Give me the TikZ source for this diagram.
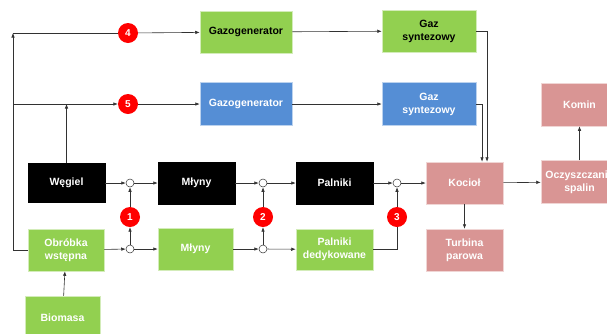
\documentclass[tikz,border=0pt]{standalone}
\usepackage{fontspec}
\setmainfont{Liberation Sans}
\usetikzlibrary{arrows.meta,calc}
\definecolor{cgreen}{RGB}{146,208,80}
\definecolor{cblue}{RGB}{85,142,213}
\definecolor{cpink}{RGB}{217,149,148}
\definecolor{cline}{RGB}{50,50,50}
\begin{document}
\begin{tikzpicture}[x=1pt,y=-1pt,
  box/.style={rectangle,minimum width=77pt,minimum height=42pt,inner sep=1pt,align=center,font=\bfseries\fontsize{10.5}{13}\selectfont,draw=white!60!#1,line width=0.5pt,fill=#1},
  gbox/.style={box=cgreen,text=black},
  wgbox/.style={box=cgreen,text=white},
  bbox/.style={box=cblue,text=white},
  kbox/.style={box=black,draw=black,text=white},
  pbox/.style={box=cpink,text=white},
  junc/.style={circle,draw=cline,fill=white,line width=0.5pt,minimum size=8pt,inner sep=0pt},
  num/.style={circle,fill=red,text=white,minimum size=20pt,inner sep=0pt,font=\bfseries\fontsize{10}{11}\selectfont},
  ln/.style={draw=cline,line width=0.6pt},
  arr/.style={ln,-{Latex[length=4.5pt,width=3.5pt]}}]
\useasboundingbox (0,0) rectangle (607,333);
\clip (0,0) rectangle (607,333);
% boxes
\node[gbox,minimum width=92pt] (gz1) at (246,32) {Gazogenerator};
\node[gbox,minimum width=94pt] (gs1) at (429,31) {Gaz\\syntezowy};
\node[bbox,minimum width=92pt,minimum height=43pt] (gz2) at (246,104) {Gazogenerator};
\node[bbox,minimum width=94pt,minimum height=43pt] (gs2) at (429,104) {Gaz\\syntezowy};
\node[pbox,minimum height=43pt] (komin) at (579.5,104.5) {Komin};
\node[kbox,minimum height=39pt] (wegiel) at (66.5,183) {Węgiel};
\node[kbox] (mlyny1) at (196.5,183) {Młyny};
\node[kbox] (palniki) at (334.5,183) {Palniki};
\node[pbox] (kociol) at (464.5,183) {Kocioł};
\node[pbox,minimum height=43pt] (oczy) at (579.5,182) {Oczyszczanie\\spalin};
\node[wgbox,minimum width=76pt] (obrobka) at (66,250) {Obróbka\\wstępna};
\node[wgbox,minimum width=75pt] (mlyny2) at (195.5,249) {Młyny};
\node[wgbox,minimum height=41pt] (pald) at (334.5,249.5) {Palniki\\dedykowane};
\node[pbox] (turbina) at (464.5,250) {Turbina\\parowa};
\node[wgbox,minimum width=75pt,minimum height=44pt] (biomasa) at (62.5,318) {Biomasa};
% junctions
\node[junc] (j1) at (130,183) {};
\node[junc] (j2) at (130,249) {};
\node[junc] (j3) at (263,183) {};
\node[junc] (j4) at (263,249) {};
\node[junc] (j5) at (397,183) {};
% numbers
\node[num] (r1) at (130,217) {1};
\node[num] (r2) at (263,217) {2};
\node[num] (r3) at (397,217) {3};
\node[num] (r4) at (128,33) {4};
\node[num] (r5) at (128,104) {5};
% helper coordinates
\coordinate (c4) at (13,33);
\coordinate (c5) at (13,104);
\coordinate (w5) at (66.5,104);
% connectors
\draw[arr] (obrobka.west) -| (c4);
\draw[ln] (c4) -- (r4);
\draw[arr] (r4) -- (gz1);
\draw[arr] (c5) -- (r5);
\draw[arr] (r5) -- (gz2);
\draw[arr] (wegiel.north) -- (w5);
\draw[arr] (gz1) -- (gs1);
\draw[arr] (gz2) -- (gs2);
\draw[arr] (gs1.east) -| ([xshift=22.5pt]kociol.north);
\draw[arr] (gs2.east) -| ([xshift=17.5pt]kociol.north);
\draw[arr] (biomasa) -- (obrobka);
\draw[arr] (wegiel) -- (j1);
\draw[arr] (j1) -- (mlyny1);
\draw[arr] (mlyny1) -- (j3);
\draw[arr] (j3) -- (palniki);
\draw[arr] (palniki) -- (j5);
\draw[arr] (j5) -- (kociol);
\draw[arr] (obrobka) -- (j2);
\draw[arr] (j2) -- (mlyny2);
\draw[arr] (mlyny2) -- (j4);
\draw[arr] (j4) -- (pald);
\draw[arr] (j2) -- (r1);
\draw[arr] (r1) -- (j1);
\draw[arr] (j4) -- (r2);
\draw[arr] (r2) -- (j3);
\draw[ln] (pald.east) -| (r3);
\draw[arr] (r3) -- (j5);
\draw[arr] (kociol) -- (turbina);
\draw[arr] (kociol) -- (oczy);
\draw[arr] (oczy) -- (komin);
\end{tikzpicture}
\end{document}
